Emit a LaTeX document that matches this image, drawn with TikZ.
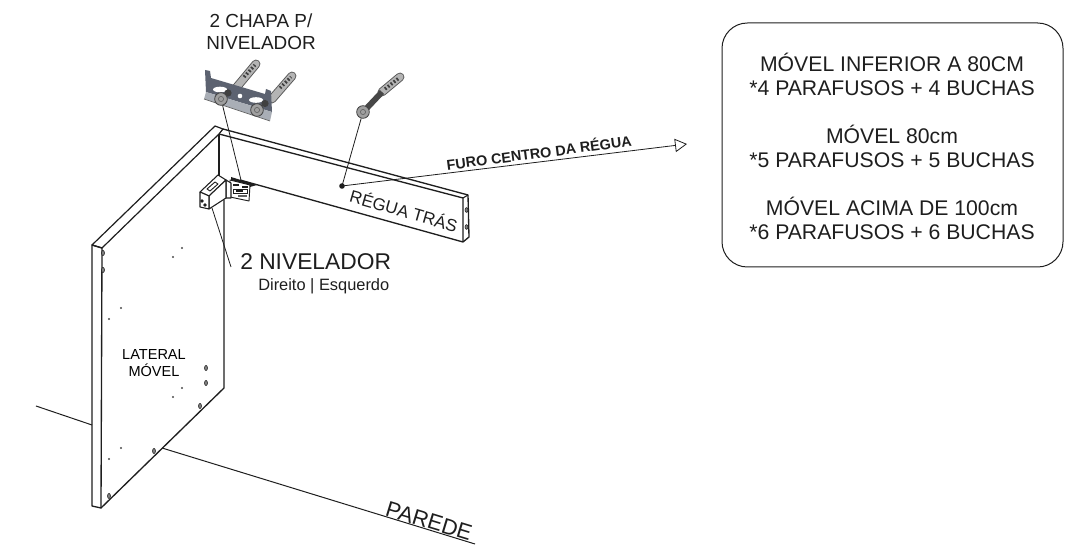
\documentclass[tikz,border=0pt]{standalone}
\usepackage{fontspec}
\setmainfont{Liberation Sans}
\usetikzlibrary{arrows.meta}
\definecolor{ink}{HTML}{1E1E1E}
\definecolor{steel}{HTML}{5C6270}
\definecolor{steellight}{HTML}{A9AEB6}
\definecolor{anchorgrey}{HTML}{B4B4B4}
\newcommand{\fs}[1]{\fontsize{#1}{#1}\selectfont}
\tikzset{
  lbl/.style={text=ink,inner sep=0pt,align=center},
  edge/.style={draw=ink,line width=1.1pt,line join=round,fill=white},
  thin edge/.style={draw=ink,line width=.7pt,line join=round},
  leader/.style={draw=ink,line width=.6pt},
  hole/.style={draw=ink,fill=gray,line width=.4pt},
  dot/.style={fill=ink!80,draw=none},
  anchorout/.style={line width=6.6pt,draw=black!65,line cap=round},
  anchorbody/.style={line width=5.2pt,draw=anchorgrey,line cap=round},
  anchorhatch/.style={draw=black!75,line width=2.6pt,dash pattern=on 1.3pt off 1.5pt},
  anchordark/.style={line width=4.4pt,draw=black!72},
  head/.style={circle,draw=black!75,fill=gray!75,line width=.6pt,minimum size=9.5pt,inner sep=0pt},
}
\begin{document}
\begin{tikzpicture}[x=.75pt,y=-.75pt]
\useasboundingbox (0,0) rectangle (1078,548);
% wall
\draw[leader,line width=.75pt] (36,406) -- (92,425);
\draw[leader,line width=.75pt] (162,448) -- (475,544);
% side panel
\draw[edge,fill=white,line width=.9pt] (92,245) -- (215,126) -- (223,129) -- (219,134) -- (102,248) -- cycle;
\draw[edge,fill=none,line width=1pt] (219,134) -- (219,176);
\draw[edge,fill=none,line width=1pt] (224,200) -- (224,388) -- (101,508);
\draw[edge,fill=none,line width=1pt] (92,245) -- (92,506) -- (101,508) -- (102,248) -- cycle;
% rail
\draw[edge,fill=none,line width=1pt] (223,129) -- (468,195) -- (469,237) -- (463,242) -- (240,180);
\draw[edge,fill=none,line width=1pt] (219,134) -- (463,198) -- (463,242);
\draw[edge,fill=none,line width=.8pt] (463,198) -- (468,195);
\foreach \p in {(466.5,210),(466.5,227)} \draw[hole] \p circle[x radius=1.5,y radius=2.4];
% panel holes
\foreach \p in {(103,253),(103,270),(200,406),(154,451),(109,496),(206,368),(206,383)}
  \draw[hole] \p circle[x radius=1.5,y radius=2.6];
\foreach \p in {(182,248),(173,257),(121,308),(109,319),(182,388),(173,397),(121,448),(109,459)}
  \fill[dot] \p circle[radius=1.2];
% leveller
\fill[ink] (231,177) -- (257,185) -- (250,187) -- (231,182) -- cycle;
\draw[thin edge,fill=white] (230,180) -- (250,185) -- (249,201) -- (230,197) -- cycle;
\fill[ink] (233,184) rectangle (239,186);
\fill[ink] (242,186) rectangle (248,188);
\draw[ink,line width=.6pt] (233,189) rectangle (247,193);
\fill[ink] (236,190) rectangle (243,192);
\fill[ink!70] (238,195) rectangle (247,197.5);
\draw[edge,line width=.8pt] (226,180) -- (231,183) -- (231,198) -- (226,198) -- cycle;
\draw[edge,line width=.8pt] (200,192) -- (218,175) -- (226,180) -- (209,196) -- cycle;
\draw[edge,line width=.8pt] (209,196) -- (226,180) -- (226,198) -- (209,209) -- cycle;
\draw[edge,line width=.8pt] (200,192) -- (209,196) -- (209,209) -- (200,207) -- cycle;
\draw[thin edge,fill=white] (207,189) -- (215,182) -- (218,184) -- (210,191) -- cycle;
\fill[ink] (202,201) circle[radius=1.8];
\fill[ink] (205,205) circle[radius=1.8];
% anchors behind bracket
\draw[anchorout] (236,88) -- (256,64);
\draw[anchorout] (272,99) -- (292,76);
\draw[anchorbody] (236,88) -- (256,64);
\draw[anchorbody] (272,99) -- (292,76);
\draw[anchorhatch] (244,77) -- (255,65);
\draw[anchorhatch] (280,88) -- (291,77);
% bracket
\fill[steel] (205,70) -- (210,71) -- (211,78) -- (265,94) -- (266,89) -- (271,91) -- (272,112) -- (206,92) -- cycle;
\fill[steellight] (204,99) -- (206,92) -- (272,112) -- (270,121) -- cycle;
\draw[black!60,line width=.5pt] (204,99) -- (270,121);
\fill[white] (220,89.5) circle[x radius=7,y radius=2.8];
\fill[white] (256,100) circle[x radius=7,y radius=2.8];
\fill[white] (240,96) circle[radius=2.3];
\fill[black!75] (228,93) circle[radius=3.6];
\fill[black!75] (265,103.5) circle[radius=3.6];
\node[head] (headA) at (221,99) {};
\node[head] (headB) at (257,110) {};
\foreach \n in {headA,headB} \draw[black!60,line width=.5pt] (\n) circle[radius=2.6];
% second screw
\draw[anchorout] (382,92) -- (400,77);
\draw[anchorbody] (382,92) -- (400,77);
\draw[anchorhatch] (385,89) -- (399,78);
\draw[anchordark] (366,109) -- (382,92);
\node[head] (headC) at (363,112) {};
\draw[black!60,line width=.5pt] (headC) circle[radius=2.6];
% hole
\fill[ink] (342,186) circle[radius=2.8];
\coordinate (holeR) at (342,186);
\coordinate (levelTop) at (241,180);
\coordinate (levelLow) at (212,208);
\coordinate (levelLbl) at (231,267);
\coordinate (arrowEnd) at (687,144);
% leaders
\draw[leader] (headA) -- (levelTop);
\draw[leader] (headC) -- (holeR);
\draw[leader] (levelLow) -- (levelLbl);
\draw[leader,-{Triangle[open,length=9pt,width=10pt]}] (holeR) -- (arrowEnd);
% labels
\node[lbl,font=\fs{14.2}] (chapa) at (261,32) {2 CHAPA P/\\[2.3pt]NIVELADOR};
\node[lbl,font=\fs{17.1},anchor=west] (niv) at (240,262) {2 NIVELADOR};
\node[lbl,font=\fs{12.3},anchor=west] (dir) at (258,286) {Direito | Esquerdo};
\node[lbl,font=\fs{10.9},text=black] (lat) at (154,363) {LATERAL\\[1.3pt]MÓVEL};
\node[lbl,font=\fs{12.8},rotate=-16] (regua) at (404,210) {RÉGUA TRÁS};
\node[lbl,font=\bfseries\fs{10.8},rotate=7.5] (furo) at (539,152) {FURO CENTRO DA RÉGUA};
\node[lbl,font=\fs{16.5},rotate=-17] (parede) at (429,521) {PAREDE};
% box
\draw[draw=ink,line width=.75pt,rounded corners=19pt] (722,23) rectangle (1063,267);
\node[lbl,font=\fs{15.9},align=center] (a) at (892,74.5) {MÓVEL INFERIOR A 80CM\\[2.2pt]*4 PARAFUSOS + 4 BUCHAS};
\node[lbl,font=\fs{15.9},align=center] (b) at (892,146.5) {MÓVEL 80cm\\[2.2pt]*5 PARAFUSOS + 5 BUCHAS};
\node[lbl,font=\fs{15.9},align=center] (c) at (892,218) {MÓVEL ACIMA DE 100cm\\[2.2pt]*6 PARAFUSOS + 6 BUCHAS};
\end{tikzpicture}
\end{document}
